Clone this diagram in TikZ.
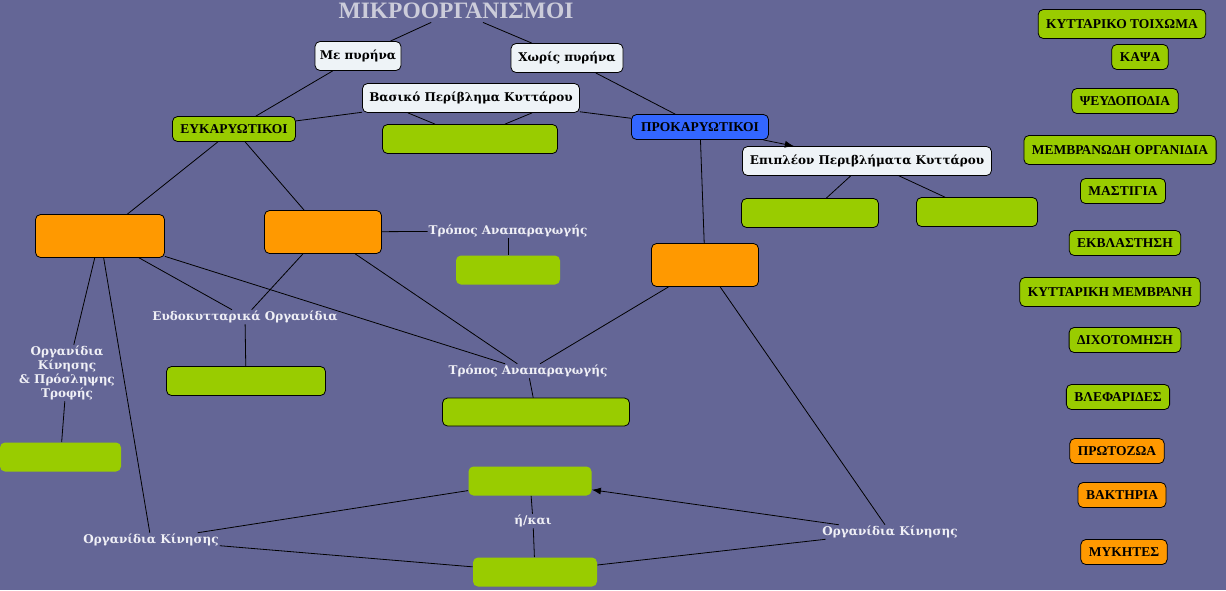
\documentclass[tikz,border=0pt]{standalone}
\usepackage{fontspec}
\setmainfont{Liberation Serif}
\newfontfamily\dejavu{DejaVu Serif}
\usepackage{tikz}
\usetikzlibrary{%
  calc,%
  arrows.meta%
}
\definecolor{bgcol}{RGB}{100,102,150}
\definecolor{cgreen}{RGB}{153,204,0}
\definecolor{corange}{RGB}{255,153,0}
\definecolor{cblue}{RGB}{51,102,255}
\definecolor{cwhite}{RGB}{238,243,247}
\definecolor{ltext}{RGB}{240,240,246}
\definecolor{titlecol}{RGB}{204,204,218}
\newcommand{\lblfont}{\dejavu\bfseries\fontsize{12}{14}\selectfont}
\newcommand{\capfont}{\bfseries\fontsize{13.5}{15}\selectfont}

\begin{document}
\begin{tikzpicture}[x=1pt,y=-1pt,
	every edge/.style={draw,line width=0.8pt},
	tip/.style={-{Latex[length=9pt,width=7pt]}},
	box/.style={rounded corners=5pt,inner sep=0pt,line width=0.8pt},
	whitebox/.style={box,draw=black,fill=cwhite,font=\lblfont,minimum height=29pt},
	greenbox/.style={box,draw=black,fill=cgreen},
	plaingreen/.style={box,fill=cgreen},
	orangebox/.style={box,draw=black,fill=corange,minimum height=43pt},
	phrase/.style={inner sep=1pt,text=ltext,font=\lblfont,align=center},
	listbox/.style={box,draw=black,font=\capfont,inner xsep=8pt,minimum height=25pt}
]
	\useasboundingbox (0,0) rectangle (1226,590);
	\fill[bgcol] (0,0) rectangle (1226,590);
	%Nodes
	\node[text=titlecol,font=\bfseries\fontsize{23.5}{25}\selectfont] (T) at (456,11) {ΜΙΚΡΟΟΡΓΑΝΙΣΜΟΙ};
	\node[whitebox,minimum width=86pt] (me) at (358,56) {Με πυρήνα};
	\node[whitebox,minimum width=112pt] (xwris) at (567,58) {Χωρίς πυρήνα};
	\node[whitebox,minimum width=217pt] (vasiko) at (471,98) {Βασικό Περίβλημα Κυττάρου};
	\node[greenbox,minimum width=175pt,minimum height=29pt] (gVas) at (470,139) {};
	\node[greenbox,font=\capfont,minimum width=123pt,minimum height=25pt] (euk) at (234,129) {ΕΥΚΑΡΥΩΤΙΚΟΙ};
	\node[box,draw=black,fill=cblue,font=\capfont,minimum width=137pt,minimum height=25pt] (prok) at (700,127) {ΠΡΟΚΑΡΥΩΤΙΚΟΙ};
	\node[whitebox,minimum width=249pt] (epipl) at (867,161) {Επιπλέον Περιβλήματα Κυττάρου};
	\node[greenbox,minimum width=137pt,minimum height=29pt] (gEp1) at (810,213) {};
	\node[greenbox,minimum width=121pt,minimum height=29pt] (gEp2) at (977,212) {};
	\node[orangebox,minimum width=107pt] (oProk) at (705,265) {};
	\node[orangebox,minimum width=129pt] (oEuk1) at (100,236) {};
	\node[orangebox,minimum width=117pt] (oEuk2) at (323,232) {};
	\node[phrase] (lTropos1) at (508,231) {Τρόπος Αναπαραγωγής};
	\node[plaingreen,minimum width=104pt,minimum height=29pt] (gTropos1) at (508,270) {};
	\node[phrase] (lEndo) at (245,317) {Ευδοκυτταρικά Οργανίδια};
	\node[greenbox,minimum width=159pt,minimum height=29pt] (gEndo) at (246,381) {};
	\node[phrase] (lOrgKin) at (67,373) {Οργανίδια\\Κίνησης\\\& Πρόσληψης\\Τροφής};
	\node[plaingreen,minimum width=121pt,minimum height=29pt] (gOrgKin) at (60.5,457) {};
	\node[phrase] (lTropos2) at (528,371) {Τρόπος Αναπαραγωγής};
	\node[greenbox,minimum width=187pt,minimum height=28pt] (gTropos2) at (536,412) {};
	\node[plaingreen,minimum width=123pt,minimum height=29pt] (gMove1) at (530,481) {};
	\node[plaingreen,minimum width=124pt,minimum height=29pt] (gMove2) at (535,572) {};
	\node[phrase] (lOr) at (533,521) {ή/και};
	\node[phrase] (lKinL) at (151,540) {Οργανίδια Κίνησης};
	\node[phrase] (lKinR) at (890,532) {Οργανίδια Κίνησης};
	%Right column
	\node[listbox,fill=cgreen,minimum height=29pt] (L1) at (1122,24) {ΚΥΤΤΑΡΙΚΟ ΤΟΙΧΩΜΑ};
	\node[listbox,fill=cgreen] (L2) at (1140,57) {ΚΑΨΑ};
	\node[listbox,fill=cgreen] (L3) at (1125,101) {ΨΕΥΔΟΠΟΔΙΑ};
	\node[listbox,fill=cgreen,minimum height=29pt] (L4) at (1120,150) {ΜΕΜΒΡΑΝΩΔΗ ΟΡΓΑΝΙΔΙΑ};
	\node[listbox,fill=cgreen] (L5) at (1123,191) {ΜΑΣΤΙΓΙΑ};
	\node[listbox,fill=cgreen] (L6) at (1125,243) {ΕΚΒΛΑΣΤΗΣΗ};
	\node[listbox,fill=cgreen,minimum height=29pt] (L7) at (1110,292) {ΚΥΤΤΑΡΙΚΗ ΜΕΜΒΡΑΝΗ};
	\node[listbox,fill=cgreen] (L8) at (1125,340) {ΔΙΧΟΤΟΜΗΣΗ};
	\node[listbox,fill=cgreen] (L9) at (1118,397) {ΒΛΕΦΑΡΙΔΕΣ};
	\node[listbox,fill=corange] (L10) at (1117,451) {ΠΡΩΤΟΖΩΑ};
	\node[listbox,fill=corange] (L11) at (1122,495) {ΒΑΚΤΗΡΙΑ};
	\node[listbox,fill=corange] (L12) at (1124,552) {ΜΥΚΗΤΕΣ};
	%Upper links
	\draw
		(T) edge (me)
		(T) edge (xwris)
		(me) edge (euk)
		(vasiko) edge (euk)
		(vasiko) edge (prok)
		(xwris) edge (prok)
		($(vasiko.south)+(-63,0)$) edge ($(gVas.north)+(-35,0)$)
		($(vasiko.south)+(61,0)$) edge ($(gVas.north)+(35,0)$)
		(prok) edge[tip] (epipl)
		(epipl) edge (gEp1)
		(epipl) edge (gEp2)
		(prok) edge (oProk)
		(euk) edge (oEuk1)
		(euk) edge (oEuk2)
	;
	%Middle links
	\draw
		(oEuk2) edge (lTropos1)
		(lTropos1) edge (gTropos1)
		(oEuk1) edge (lEndo)
		(oEuk2) edge (lEndo)
		(lEndo) edge (gEndo)
		(oEuk1) edge (lOrgKin)
		(lOrgKin) edge (gOrgKin)
		(oEuk1) edge (lTropos2)
		(oEuk2) edge (lTropos2)
		(oProk) edge (lTropos2)
		(lTropos2) edge (gTropos2)
	;
	%Lower links
	\draw
		(oEuk1) edge (lKinL)
		(lKinL) edge (gMove1)
		(lKinL) edge (gMove2)
		(oProk) edge (lKinR)
		(lKinR) edge[tip] (gMove1)
		(lKinR) edge (gMove2)
		(gMove1) edge (lOr)
		(lOr) edge (gMove2)
	;
\end{tikzpicture}
\end{document}
